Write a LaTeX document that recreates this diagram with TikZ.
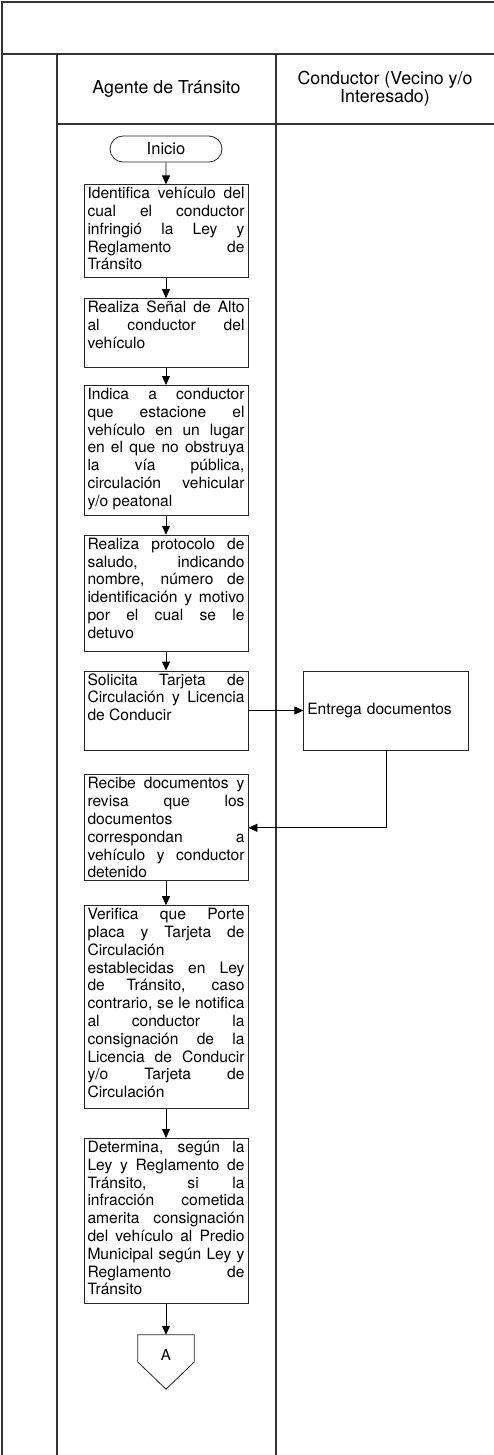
\documentclass[tikz,border=0pt]{standalone}
\usepackage{fontspec}
\setmainfont{TeX Gyre Heros}
\usetikzlibrary{shapes.misc}
\usetikzlibrary{arrows.meta}
\usetikzlibrary{positioning}
\tolerance=10000
\hyphenpenalty=10000
\hbadness=10000

\begin{document}
\begin{tikzpicture}[
  x=1pt, y=-1pt,
  frame/.style={draw=black!80, line width=1.3pt},
  head/.style={font=\fontsize{17.8}{18.3}\selectfont, align=center},
  box/.style={draw=black!85, line width=0.8pt, text width=157pt, inner xsep=3.5pt, inner ysep=3pt,
    text height=11pt, align=justify, font=\fontsize{15.6}{17.8}\selectfont},
  sidebox/.style={draw=black!85, line width=0.8pt, text width=158pt, inner xsep=3.5pt,
    minimum height=79pt, align=left, font=\fontsize{15.6}{17.8}\selectfont},
  term/.style={rounded rectangle, draw=black!85, line width=0.8pt, minimum width=112pt,
    minimum height=26pt, inner sep=0pt, font=\fontsize{16.5}{18}\selectfont},
  conn/.style={minimum width=56pt, minimum height=54pt, inner sep=0pt},
  arr/.style={draw=black, line width=0.8pt, -{Triangle[length=9pt,width=8pt]}}
]
\useasboundingbox (0,0) rectangle (494,1455);
\draw[frame] (2,1455) -- (2,2) -- (494,2);
\draw[frame] (2,54) -- (494,54);
\draw[frame] (57,54) -- (57,1455);
\draw[frame] (276,54) -- (276,1455);
\draw[frame] (57,124) -- (494,124);

\node[head] (agente) at (166.5,89) {Agente de Tránsito};
\node[head] (conductor) at (385,89) {Conductor (Vecino y/o\\Interesado)};

\node[term] (inicio) at (166,149) {Inicio};
\node[box, text depth=76pt, below=22pt of inicio] (b1) {Identifica vehículo del\linebreak cual el conductor\linebreak infringió la Ley y\linebreak Reglamento de\linebreak Tránsito};
\node[box, text depth=52pt, below=20pt of b1] (b2) {Realiza Señal de Alto\linebreak al conductor del\linebreak vehículo};
\node[box, text depth=113pt, below=17pt of b2] (b3) {Indica a conductor\linebreak que estacione el\linebreak vehículo en un lugar\linebreak en el que no obstruya\linebreak la vía pública,\linebreak circulación vehicular\linebreak y/o peatonal};
\node[box, text depth=99pt, below=19pt of b3] (b4) {Realiza protocolo de\linebreak saludo, indicando\linebreak nombre, número de\linebreak identificación y motivo\linebreak por el cual se le\linebreak detuvo};
\node[box, text depth=62pt, below=19pt of b4] (b5) {Solicita Tarjeta de\linebreak Circulación y Licencia\linebreak de Conducir};
\node[sidebox, right=55pt of b5] (entrega) {Entrega documentos};
\node[box, text depth=89pt, below=24pt of b5] (b6) {Recibe documentos y\linebreak revisa que los\linebreak documentos\linebreak correspondan a\linebreak vehículo y conductor\linebreak detenido};
\node[box, text depth=186pt, below=24pt of b6] (b7) {Verifica que Porte\linebreak placa y Tarjeta de\linebreak Circulación\linebreak establecidas en Ley\linebreak de Tránsito, caso\linebreak contrario, se le notifica\linebreak al conductor la\linebreak consignación de la\linebreak Licencia de Conducir\linebreak y/o Tarjeta de\linebreak Circulación};
\node[box, text depth=148pt, below=29pt of b7] (b8) {Determina, según la\linebreak Ley y Reglamento de\linebreak Tránsito, si la\linebreak infracción cometida\linebreak amerita consignación\linebreak del vehículo al Predio\linebreak Municipal según Ley y\linebreak Reglamento de\linebreak Tránsito};
\node[conn, below=31pt of b8, label={[yshift=7pt, font=\fontsize{15}{18}\selectfont]center:A}] (conA) {};
\draw[draw=black!85, line width=0.8pt] (conA.north west) -- (conA.north east) -- (conA.east)
  -- (conA.south) -- (conA.west) -- cycle;

\draw[arr] (inicio) -- (b1);
\draw[arr] (b1) -- (b2);
\draw[arr] (b2) -- (b3);
\draw[arr] (b3) -- (b4);
\draw[arr] (b4) -- (b5);
\draw[arr] (b5) -- (entrega);
\draw[arr] (entrega.south) |- (b6.east);
\draw[arr] (b6) -- (b7);
\draw[arr] (b7) -- (b8);
\draw[arr] (b8) -- (conA);
\end{tikzpicture}
\end{document}
